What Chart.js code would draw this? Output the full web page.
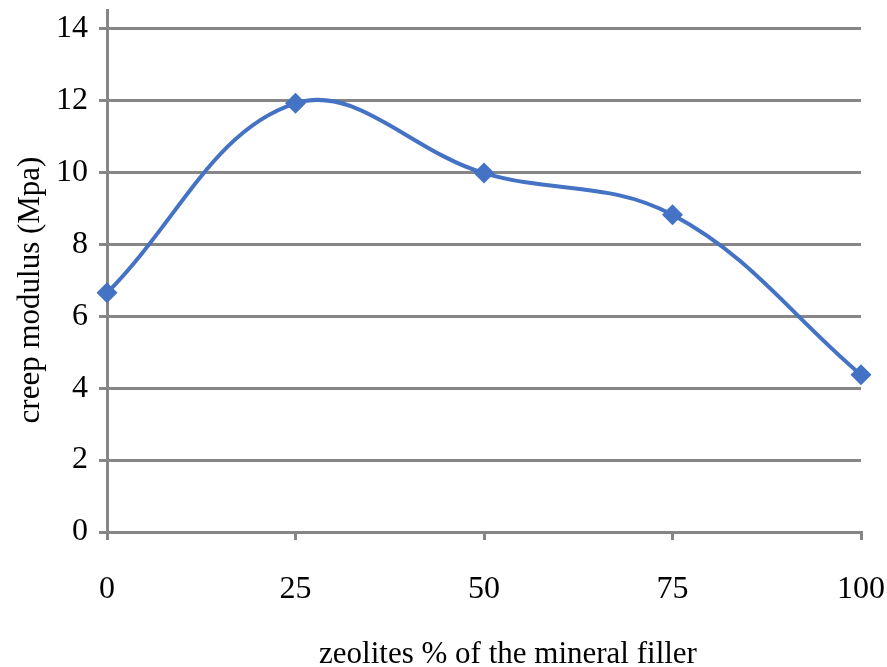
<!DOCTYPE html>
<html>
<head>
<meta charset="utf-8">
<script src="https://cdn.jsdelivr.net/npm/chart.js@4.4.0/dist/chart.umd.min.js"></script>
<style>
  html, body { margin: 0; padding: 0; background: #fff; }
  #wrap { width: 887px; height: 667px; }
</style>
</head>
<body>
<div id="wrap"><canvas id="c" width="887" height="667"></canvas></div>
<script>
const categories = ['0', '25', '50', '75', '100'];
const creepModulus = [6.65, 11.92, 9.98, 8.82, 4.37];
const yTickValues = [0, 2, 4, 6, 8, 10, 12, 14];
const xTitle = 'zeolites % of the mineral filler';
const yTitle = 'creep modulus (Mpa)';

const GRID = '#868686';
const LINE = '#4472C4';
const FONT = 'Liberation Serif, Times New Roman, serif';

const titlesPlugin = {
  id: 'axisTitles',
  afterDraw(chart) {
    const ctx = chart.ctx;
    ctx.save();
    ctx.fillStyle = '#000';
    ctx.font = '31px ' + FONT;
    ctx.textAlign = 'center';
    ctx.textBaseline = 'middle';
    ctx.fillText(xTitle, 508, 655);
    ctx.translate(31, 290);
    ctx.rotate(-Math.PI / 2);
    ctx.fillText(yTitle, 0, 0);
    ctx.restore();
  }
};

new Chart(document.getElementById('c'), {
  type: 'line',
  data: {
    labels: categories,
    datasets: [{
      data: creepModulus,
      borderColor: LINE,
      backgroundColor: LINE,
      borderWidth: 4,
      tension: 0.38,
      pointStyle: 'rectRot',
      pointRadius: 10.5,
      pointBorderWidth: 0,
      pointBackgroundColor: LINE,
      fill: false
    }]
  },
  options: {
    responsive: false,
    animation: false,
    devicePixelRatio: 1,
    layout: { padding: { top: 9, right: 26, left: 0, bottom: 0 } },
    plugins: { legend: { display: false }, tooltip: { enabled: false } },
    scales: {
      x: {
        offset: false,
        afterFit(s) { s.height = 135; s.paddingLeft = 0; s.paddingRight = 0; },
        grid: { drawOnChartArea: false, drawTicks: true, tickLength: 8, color: GRID, lineWidth: 3 },
        border: { display: true, color: GRID, width: 3 },
        ticks: { color: '#000', font: { family: FONT, size: 32 }, padding: 30, maxRotation: 0 }
      },
      y: {
        min: 0,
        max: 14.5,
        afterFit(s) { s.width = 107; s.paddingTop = 0; s.paddingBottom = 0; },
        afterBuildTicks(s) { s.ticks = yTickValues.map(v => ({ value: v })); },
        grid: { color: GRID, lineWidth: 3, drawTicks: true, tickLength: 8 },
        border: { display: true, color: GRID, width: 3 },
        ticks: { color: '#000', font: { family: FONT, size: 32 }, padding: 11 }
      }
    }
  },
  plugins: [titlesPlugin]
});
</script>
</body>
</html>
